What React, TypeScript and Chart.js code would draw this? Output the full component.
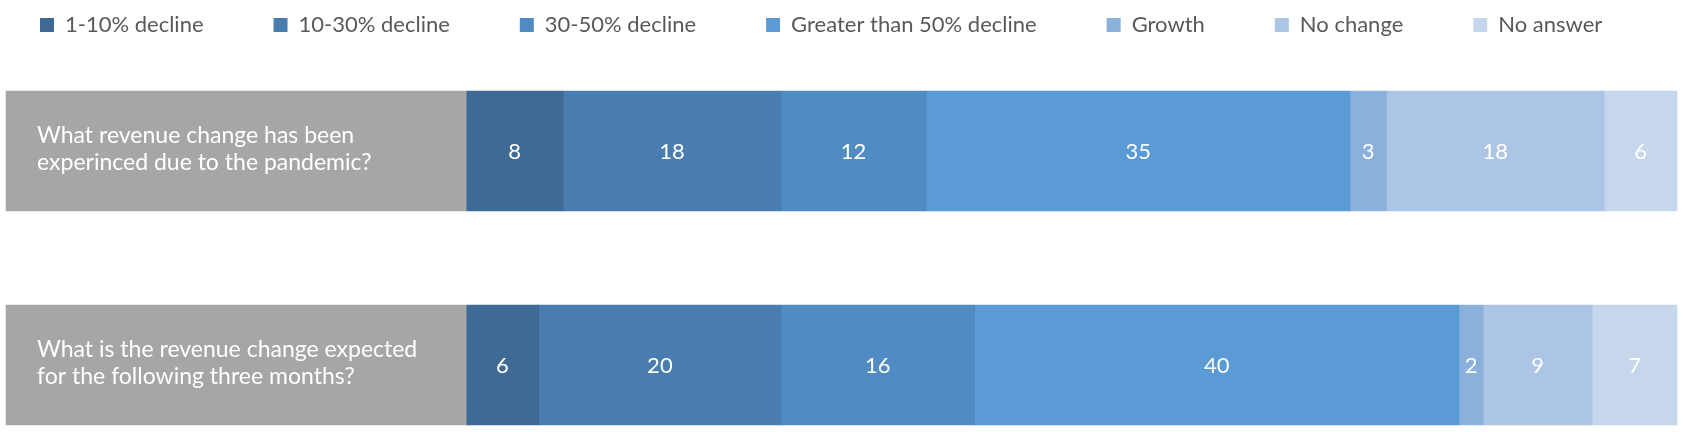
import React, { useEffect, useRef } from "react";
import { Chart, registerables } from "chart.js";

Chart.register(...registerables);

// ---------- data ----------
const categories = [
  "What revenue change has been experinced due to the pandemic?",
  "What is the revenue change expected for the following three months?",
];
const questionLines = [
  ["What revenue change has been", "experinced due to the pandemic?"],
  ["What is the revenue change expected", "for the following three months?"],
];
const questionBox = [38, 38];
const seriesNames = [
  "1-10% decline",
  "10-30% decline",
  "30-50% decline",
  "Greater than 50% decline",
  "Growth",
  "No change",
  "No answer",
];
const decline1to10 = [8, 6];
const decline10to30 = [18, 20];
const decline30to50 = [12, 16];
const declineOver50 = [35, 40];
const growth = [3, 2];
const noChange = [18, 9];
const noAnswer = [6, 7];
const xMin = -0.5;
const xMax = 138.5;

// ---------- styles ----------
const seriesColors = ["#3F6A95", "#4A7DAF", "#508BC4", "#5B9BD5", "#8AB0DC", "#ADC5E4", "#C6D7EC"];
const questionColor = "#A6A6A6";
const FONT = "Lato, 'Open Sans', sans-serif";
const legendFontSize = 22;
const legendGap = 70;
const legendFirstBoxX = 40;
const legendCenterY = 25;
const barRowCenterTop = 151;
const barRowCenterBottom = 365;
const canvasH = 432;

const labelPlugin = {
  id: "segLabels",
  afterDatasetsDraw(chart: any) {
    const ctx = chart.ctx;
    ctx.save();
    ctx.fillStyle = "#FFFFFF";
    ctx.textBaseline = "middle";
    chart.data.datasets.forEach((ds: any, di: number) => {
      const meta = chart.getDatasetMeta(di);
      meta.data.forEach((el: any, i: number) => {
        const { x, y, base } = el.getProps(["x", "y", "base"], true);
        if (di === 0) {
          ctx.font = `23px ${FONT}`;
          ctx.textAlign = "left";
          const lines = questionLines[i];
          const lh = 27;
          lines.forEach((t: string, k: number) => {
            ctx.fillText(t, Math.min(x, base) + 31, y - 2 + (k - (lines.length - 1) / 2) * lh);
          });
        } else {
          ctx.font = `22px ${FONT}`;
          ctx.textAlign = "center";
          ctx.fillText(String(ds.data[i]), (x + base) / 2, y + 1);
        }
      });
    });
    ctx.restore();
  },
};

// keeps the legend on one row and places it like the original (left-started, near the top)
const legendPlace = {
  id: "legendPlace",
  afterInit(chart: any) {
    const lg = chart.legend;
    if (!lg) return;
    const origFit = lg.fit.bind(lg);
    lg.fit = function () {
      const mw = this.maxWidth;
      this.maxWidth = mw + 300;
      origFit();
      this.maxWidth = mw;
      this.width = Math.min(this.width, mw);
    };
  },
  afterLayout(chart: any) {
    const lg = chart.legend;
    if (!lg) return;
    const pad = lg.options.labels.padding;
    const desiredTop = legendCenterY - legendFontSize / 2 - pad;
    const dy = desiredTop - lg.top;
    lg.top += dy;
    lg.bottom += dy;
    lg.left = legendFirstBoxX - pad;
    lg.right = chart.width + 200;
  },
};

export default function App() {
  const ref = useRef<HTMLCanvasElement | null>(null);

  useEffect(() => {
    if (!ref.current) return;
    const legendHeight = legendFontSize + legendGap + 10;
    const seriesData = [decline1to10, decline10to30, decline30to50, declineOver50, growth, noChange, noAnswer];
    const datasets: any[] = [
      {
        label: "Question",
        data: questionBox,
        backgroundColor: questionColor,
        borderWidth: 0,
        barThickness: 120,
        clip: false,
      },
      ...seriesNames.map((name, i) => ({
        label: name,
        data: seriesData[i],
        backgroundColor: seriesColors[i],
        borderWidth: 0,
        barThickness: 120,
        clip: false,
      })),
    ];
    const chart = new Chart(ref.current, {
      type: "bar",
      data: { labels: categories, datasets },
      options: {
        indexAxis: "y",
        animation: false,
        responsive: true,
        maintainAspectRatio: false,
        devicePixelRatio: 1,
        layout: {
          padding: {
            left: 0,
            right: 0,
            top: barRowCenterTop - legendHeight,
            bottom: canvasH - barRowCenterBottom,
          },
        },
        scales: {
          x: { display: false, stacked: true, min: xMin, max: xMax },
          y: { display: false, stacked: true, offset: false },
        },
        plugins: {
          tooltip: { enabled: false },
          legend: {
            display: true,
            position: "top",
            align: "start",
            labels: {
              boxWidth: 14,
              boxHeight: 14,
              padding: legendGap,
              color: "#595959",
              font: { family: FONT, size: legendFontSize },
              filter: (item: any) => item.datasetIndex !== 0,
            },
          },
        },
      } as any,
      plugins: [labelPlugin, legendPlace],
    });
    return () => chart.destroy();
  }, []);

  return (
    <div style={{ position: "fixed", left: 0, top: 0, width: 1683, height: 432, background: "#FFFFFF" }}>
      <canvas ref={ref} />
    </div>
  );
}
